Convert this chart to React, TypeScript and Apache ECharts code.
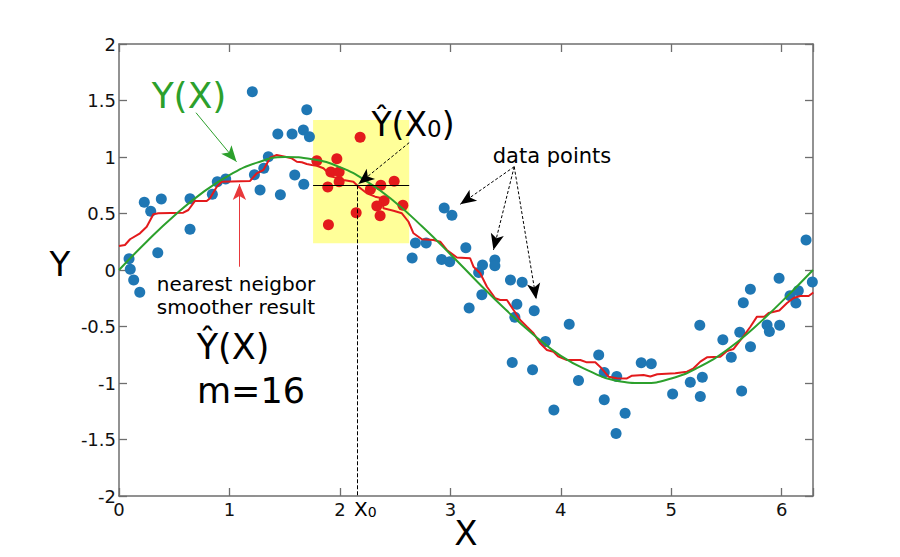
import React, { useEffect, useRef } from "react";
import * as echarts from "echarts";

// observed data points (blue)
const blueData: [number, number][] = [
  [0.091, 0.1], [0.102, 0.006], [0.133, -0.088], [0.188, -0.197], [0.229, 0.599],
  [0.287, 0.519], [0.351, 0.153], [0.383, 0.628], [0.643, 0.631], [0.643, 0.36],
  [0.845, 0.67], [0.89, 0.781], [0.966, 0.805], [1.207, 1.578], [1.226, 0.843],
  [1.277, 0.708], [1.311, 0.9], [1.352, 1.003], [1.438, 1.204], [1.461, 0.666],
  [1.567, 1.204], [1.591, 0.841], [1.669, 1.239], [1.673, 0.758], [1.7, 1.419],
  [1.724, 1.18],
  [2.684, 0.239], [2.781, 0.239], [2.654, 0.106], [2.944, 0.549], [3.014, 0.484],
  [2.921, 0.093], [2.994, 0.073], [3.14, 0.197], [3.17, -0.336], [3.256, -0.022],
  [3.285, -0.219], [3.291, 0.044], [3.403, 0.088], [3.403, 0.038], [3.544, -0.088],
  [3.65, -0.109], [3.602, -0.304], [3.584, -0.419], [3.759, -0.36], [3.56, -0.819],
  [3.744, -0.883], [3.861, -0.633], [4.076, -0.481], [3.937, -1.239], [4.16, -0.978],
  [4.343, -0.752], [4.393, -0.907], [4.393, -1.149], [4.506, -0.942], [4.5, -1.447],
  [4.582, -1.267], [4.728, -0.82], [4.819, -0.829], [5.012, -1.097], [5.172, -0.993],
  [5.281, -0.949], [5.263, -1.119], [5.258, -0.488], [5.467, -0.617], [5.543, -0.773],
  [5.62, -0.551], [5.637, -1.071], [5.717, -0.679], [5.652, -0.29], [5.716, -0.171],
  [5.867, -0.487], [5.888, -0.544], [5.981, -0.488], [5.976, -0.073], [6.075, -0.227],
  [6.15, -0.184], [6.128, -0.292], [6.277, -0.106], [6.22, 0.265],
];

// the m = 16 nearest neighbours of X0 (red)
const windowData: [number, number][] = [
  [1.791, 0.967], [1.972, 0.985], [2.183, 1.174], [1.918, 0.867], [1.993, 0.867],
  [1.993, 0.781], [1.89, 0.735], [2.276, 0.714], [2.37, 0.75], [2.491, 0.785],
  [2.4, 0.613], [2.334, 0.566], [2.364, 0.481], [2.57, 0.573], [2.147, 0.507],
  [1.896, 0.401],
];

// nearest neighbour smoother result
const smootherData: [number, number][] = [
  [0.0, 0.212], [0.054, 0.221], [0.1, 0.272], [0.19, 0.325], [0.251, 0.383],
  [0.311, 0.493], [0.356, 0.502], [0.582, 0.507], [0.628, 0.531], [0.688, 0.611],
  [0.794, 0.611], [0.824, 0.635], [0.885, 0.737], [0.93, 0.781], [1.187, 0.788],
  [1.247, 0.856], [1.307, 0.885], [1.368, 0.994], [1.428, 1.018], [1.504, 1.003],
  [1.564, 0.988], [1.61, 0.958], [1.655, 0.953], [1.7, 0.938], [1.745, 0.929],
  [1.791, 0.923], [1.851, 0.9], [1.927, 0.826], [2.032, 0.796], [2.122, 0.781],
  [2.168, 0.737], [2.244, 0.679], [2.319, 0.649], [2.38, 0.635], [2.394, 0.546],
  [2.485, 0.525], [2.561, 0.502], [2.621, 0.427], [2.666, 0.325], [2.742, 0.272],
  [2.847, 0.265], [2.908, 0.25], [2.968, 0.177], [3.059, 0.111], [3.179, 0.104],
  [3.209, 0.029], [3.27, -0.029], [3.331, -0.148], [3.406, -0.25], [3.451, -0.265],
  [3.512, -0.265], [3.572, -0.354], [3.632, -0.442], [3.693, -0.502], [3.753, -0.56],
  [3.813, -0.649], [3.874, -0.708], [3.934, -0.723], [3.979, -0.767], [4.055, -0.796],
  [4.176, -0.796], [4.236, -0.817], [4.312, -0.817], [4.357, -0.858], [4.432, -0.944],
  [4.508, -0.958], [4.599, -0.96], [4.644, -0.935], [4.749, -0.929], [4.81, -0.942],
  [4.873, -0.923], [5.036, -0.914], [5.142, -0.9], [5.202, -0.87], [5.263, -0.811],
  [5.323, -0.773], [5.444, -0.767], [5.505, -0.717], [5.564, -0.699], [5.64, -0.604],
  [5.716, -0.502], [5.776, -0.413], [5.842, -0.413], [5.881, -0.381], [5.978, -0.358],
  [6.048, -0.292], [6.108, -0.248], [6.168, -0.23], [6.244, -0.23], [6.286, -0.199],
];

// true function Y(X)
const curveX = [0, 0.25, 0.5, 0.75, 1.0, 1.25, 1.5, 1.75, 2.0, 2.25, 2.5, 2.75, 3.0,
  3.25, 3.5, 3.75, 4.0, 4.25, 4.5, 4.75, 5.0, 5.25, 5.5, 5.75, 6.0, 6.283];
const curveY = [0, 0.25, 0.48, 0.68, 0.84, 0.95, 1.0, 0.98, 0.91, 0.78, 0.6, 0.38, 0.14,
  -0.11, -0.35, -0.57, -0.76, -0.89, -0.98, -1.0, -0.96, -0.86, -0.71, -0.51, -0.28, 0.0];

// window around X0
const x0Value = 2.16;
const yHatX0 = 0.75;
const windowX = [1.757, 2.627];
const windowY = [0.236, 1.327];

const FONT = "DejaVu Sans";
const AXIS_COLOR = "#6e6e6e";

export default function App() {
  const ref = useRef<HTMLDivElement>(null);

  useEffect(() => {
    document.body.style.margin = "0";
    if (!ref.current) return;
    const chart = echarts.init(ref.current, null, { renderer: "svg" });

    const arrow = (
      from: [number, number],
      to: [number, number],
      color: string,
      type: any,
      width = 1
    ) => [
      { coord: from, symbol: "none", lineStyle: { color, type, width }, itemStyle: { color } },
      { coord: to, symbol: "arrow", symbolSize: [10, 16], lineStyle: { color, type, width }, itemStyle: { color } },
    ];
    const plain = (from: [number, number], to: [number, number], type: any) => [
      { coord: from, symbol: "none", lineStyle: { color: "#000", type, width: 1 } },
      { coord: to, symbol: "none", lineStyle: { color: "#000", type, width: 1 } },
    ];

    const baseAxis = {
      type: "value" as const,
      axisLine: { show: true, onZero: false, lineStyle: { color: AXIS_COLOR, width: 1.5 } },
      axisTick: { show: true, inside: true, length: 8, lineStyle: { color: AXIS_COLOR, width: 1.3 } },
      splitLine: { show: false },
    };

    const txt = (x: number, y: number, text: string, size: number, fill = "#000", align = "center", rich?: any) => ({
      type: "text",
      x,
      y,
      z: 100,
      style: {
        text,
        font: `${size}px '${FONT}'`,
        fill,
        textAlign: align,
        textVerticalAlign: "middle",
        ...(rich ? { rich } : {}),
      },
    });

    const option: any = {
      animation: false,
      grid: { left: 119, top: 44, width: 694, height: 452, containLabel: false },
      xAxis: [
        {
          ...baseAxis,
          min: 0,
          max: 6.283,
          interval: 1,
          position: "bottom",
          axisLabel: {
            color: "#111",
            fontSize: 18,
            fontFamily: FONT,
            margin: 4,
            formatter: (v: number) => (Math.abs(v - Math.round(v)) < 1e-6 ? String(Math.round(v)) : ""),
          },
        },
        {
          ...baseAxis,
          min: 0,
          max: 6.283,
          interval: 1,
          position: "top",
          axisLabel: { show: false },
        },
      ],
      yAxis: [
        {
          ...baseAxis,
          min: -2,
          max: 2,
          interval: 0.5,
          position: "left",
          axisLabel: { color: "#111", fontSize: 18, fontFamily: FONT, margin: 3 },
        },
        {
          ...baseAxis,
          min: -2,
          max: 2,
          interval: 0.5,
          position: "right",
          axisLabel: { show: false },
        },
      ],
      series: [
        {
          type: "scatter",
          data: [],
          z: 1,
          silent: true,
          markArea: {
            silent: true,
            itemStyle: { color: "#ffff99" },
            label: { show: false },
            data: [[{ coord: [windowX[0], windowY[1]] }, { coord: [windowX[1], windowY[0]] }]],
          },
        },
        {
          type: "scatter",
          data: blueData,
          symbolSize: 11,
          itemStyle: { color: "#1f77b4", opacity: 1 },
          z: 2,
          silent: true,
        },
        {
          type: "scatter",
          data: windowData,
          symbolSize: 11,
          itemStyle: { color: "#e31a1c", opacity: 1 },
          z: 2,
          silent: true,
        },
        {
          type: "line",
          data: smootherData,
          showSymbol: false,
          symbol: "none",
          lineStyle: { color: "#e31a1c", width: 2 },
          z: 3,
          silent: true,
        },
        {
          type: "line",
          data: curveX.map((x, i) => [x, curveY[i]]),
          showSymbol: false,
          symbol: "none",
          smooth: true,
          lineStyle: { color: "#2ca02c", width: 2 },
          z: 4,
          silent: true,
        },
        {
          type: "line",
          data: [],
          z: 5,
          silent: true,
          markLine: {
            silent: true,
            animation: false,
            label: { show: false },
            emphasis: { disabled: true },
            symbol: ["none", "none"],
            data: [
              plain([windowX[0], yHatX0], [windowX[1], yHatX0], "solid"),
              plain([x0Value, yHatX0], [x0Value, -2], [4, 2]),
              arrow([0.697, 1.392], [1.064, 0.958], "#2ca02c", "solid"),
              arrow([1.09, 0.029], [1.09, 0.761], "#e8383b", "solid"),
              arrow([2.627, 1.127], [2.168, 0.761], "#000", [3, 2]),
              arrow([3.578, 0.914], [3.089, 0.581], "#000", [3, 2]),
              arrow([3.578, 0.914], [3.39, 0.177], "#000", [3, 2]),
              arrow([3.578, 0.914], [3.777, -0.259], "#000", [3, 2]),
            ],
          },
        },
      ],
      graphic: [
        txt(189, 95, "Y(X)", 36, "#2ca02c"),
        txt(413, 124, "Ŷ(X{s|0})", 33, "#000", "center", {
          s: { font: `23px '${FONT}'`, fill: "#000", verticalAlign: "bottom" },
        }),
        txt(552, 156, "data points", 21),
        txt(236, 284, "nearest neigbor", 20),
        txt(236, 307, "smoother result", 20),
        txt(233, 347, "Ŷ(X)", 35),
        txt(251, 391, "m=16", 35),
        txt(60, 264, "Y", 34),
        txt(466, 533, "X", 34),
        txt(354, 509, "X{s|0}", 20, "#000", "left", {
          s: { font: `14px '${FONT}'`, fill: "#000", verticalAlign: "bottom" },
        }),
      ],
    };

    chart.setOption(option);
    return () => chart.dispose();
  }, []);

  return <div ref={ref} style={{ width: 900, height: 557 }} />;
}
